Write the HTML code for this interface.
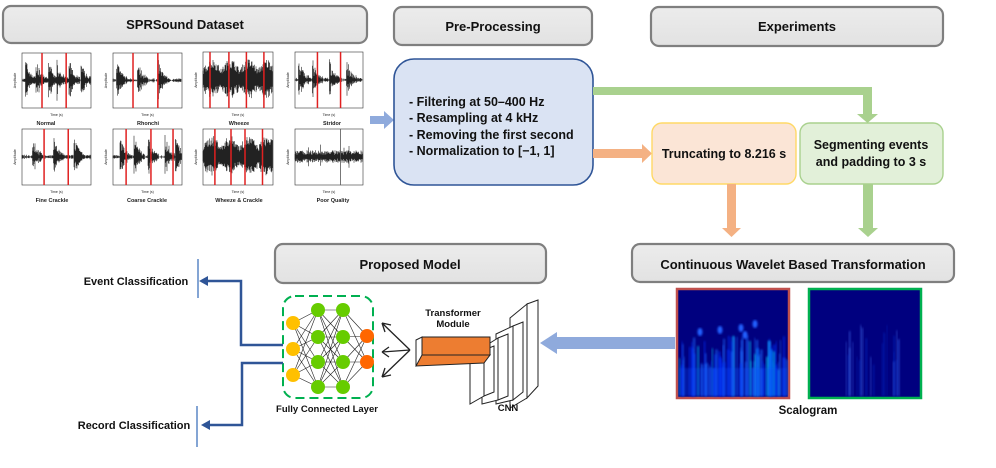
<!DOCTYPE html>
<html><head><meta charset="utf-8"><style>
body{margin:0;background:#fff}
svg{display:block;font-family:"Liberation Sans",Arial,sans-serif}
</style></head><body>
<svg id="s" width="996" height="468" viewBox="0 0 996 468" xmlns="http://www.w3.org/2000/svg">
<defs>
<linearGradient id="hg" x1="0" y1="0" x2="0" y2="1"><stop offset="0" stop-color="#ececec"/><stop offset="1" stop-color="#e2e2e2"/></linearGradient>
<filter id="bl" x="-50%" y="-10%" width="200%" height="120%"><feGaussianBlur stdDeviation="1"/></filter>
</defs>
<rect width="996" height="468" fill="#fff"/>
<g stroke="#7f7f7f" stroke-width="2.2" fill="url(#hg)">
<rect x="3" y="6" width="364" height="37" rx="8"/>
<rect x="394" y="7" width="198" height="38" rx="8"/>
<rect x="651" y="7" width="292" height="39" rx="8"/>
<rect x="275" y="244" width="271" height="39" rx="8"/>
<rect x="632" y="244" width="322" height="38" rx="8"/>
</g>
<g font-weight="bold" font-size="13" text-anchor="middle" fill="#111">
<text x="185" y="29">SPRSound Dataset</text>
<text x="493" y="31">Pre-Processing</text>
<text x="797" y="31">Experiments</text>
<text x="410" y="269">Proposed Model</text>
<text x="793" y="269">Continuous Wavelet Based Transformation</text>
</g>
<g id="wav"></g>
<g font-size="5.5" font-weight="bold" text-anchor="middle" fill="#222">
<text x="46" y="125">Normal</text><text x="148" y="125">Rhonchi</text><text x="239" y="125">Wheeze</text><text x="332" y="125">Stridor</text>
<text x="52" y="202">Fine Crackle</text><text x="147" y="202">Coarse Crackle</text><text x="239" y="202">Wheeze &amp; Crackle</text><text x="333" y="202">Poor Quality</text>
</g>
<polygon points="370,116 384,116 384,111 394,120 384,129 384,124 370,124" fill="#8faadc"/>
<rect x="394" y="59" width="199" height="126" rx="20" fill="#dae3f3" stroke="#2f5597" stroke-width="1.6"/>
<g font-weight="bold" font-size="12.5" fill="#111">
<text x="409" y="106">- Filtering at 50–400 Hz</text>
<text x="409" y="122">- Resampling at 4 kHz</text>
<text x="409" y="139">- Removing the first second</text>
<text x="409" y="155">- Normalization to [−1, 1]</text>
</g>
<polygon points="593,87 872,87 872,114 878,114 867.5,123 857,114 863,114 863,95 593,95" fill="#a9d18e"/>
<polygon points="593,149 642,149 642,144 652,153.5 642,163 642,158 593,158" fill="#f4b183"/>
<rect x="652" y="123" width="144" height="61" rx="10" fill="#fbe5d6" stroke="#ffd966" stroke-width="1.4"/>
<rect x="800" y="123" width="143" height="61" rx="10" fill="#e2f0d9" stroke="#a9d18e" stroke-width="1.4"/>
<g font-weight="bold" font-size="12.5" fill="#111" text-anchor="middle">
<text x="724" y="158">Truncating to 8.216 s</text>
<text x="871" y="149">Segmenting events</text>
<text x="871" y="166">and padding to 3 s</text>
</g>
<polygon points="727,184 736,184 736,228 741,228 731.5,237 722,228 727,228" fill="#f4b183"/>
<polygon points="863,184 873,184 873,228 878,228 868,237 858,228 863,228" fill="#a9d18e"/>
<rect x="677" y="289" width="112" height="109" fill="#00007f" stroke="#c0504d" stroke-width="2.5"/>
<rect x="809" y="289" width="112" height="109" fill="#00007f" stroke="#00b050" stroke-width="2.5"/>
<g id="sc1"></g><g id="sc2"></g>
<text x="808" y="414" font-weight="bold" font-size="11.5" text-anchor="middle" fill="#111">Scalogram</text>
<polygon points="675,337 557,337 557,332 540,343 557,354 557,349 675,349" fill="#8faadc"/>
<g stroke="#222" stroke-width="1" fill="#fff">
<polygon points="527,304 538,300 538,386 527,398"/>
<polygon points="510,318 527,304 527,398 510,408"/>
<polygon points="513,326 523,322 523,392 513,400"/>
<polygon points="496,334 513,326 513,400 496,404"/>
<polygon points="498,338 508,334 508,396 498,400"/>
<polygon points="482,348 498,338 498,400 482,404"/>
<polygon points="484,350 494,346 494,392 484,396"/>
<polygon points="470,358 484,350 484,396 470,404"/>
</g>
<polygon points="416,340 422,337 422,363 416,366" fill="#fff" stroke="#222"/>
<rect x="422" y="337" width="68" height="18" fill="#ed7d31" stroke="#222"/>
<polygon points="416,366 422,355 490,355 484,363" fill="#ed7d31" stroke="#222"/>
<g font-weight="bold" font-size="9.5" text-anchor="middle" fill="#111">
<text x="453" y="316">Transformer</text><text x="453" y="327">Module</text>
<text x="508" y="411">CNN</text>
<text x="327" y="412">Fully Connected Layer</text>
<text x="136" y="285" font-size="11">Event Classification</text>
<text x="134" y="429" font-size="11">Record Classification</text>
</g>
<g stroke="#222" stroke-width="1.3" fill="none">
<path d="M410,350 L382,323 M382,323 l3,9 M382,323 l9,2"/>
<path d="M410,350 L382,352 M382,352 l7,-5 M382,352 l7,5"/>
<path d="M410,350 L382,377 M382,377 l9,-2 M382,377 l3,-9"/>
</g>
<rect x="283" y="296" width="90" height="102" rx="12" fill="none" stroke="#00b050" stroke-width="2" stroke-dasharray="9,5"/>
<g id="fc"></g>
<g stroke="#2f5597" stroke-width="2.5" fill="none">
<path d="M283,345 L241,345 L241,281 L205,281"/>
<path d="M283,363 L242,363 L242,425 L207,425"/>
</g>
<polygon points="199,281 208,276 208,286" fill="#2f5597"/>
<polygon points="201,425 210,420 210,430" fill="#2f5597"/>
<line x1="198" y1="259" x2="198" y2="298" stroke="#5b87c5" stroke-width="1.5"/>
<line x1="197" y1="406" x2="197" y2="447" stroke="#5b87c5" stroke-width="1.5"/>
</svg>
<script>
var NS="http://www.w3.org/2000/svg";
function el(p,t,a){var e=document.createElementNS(NS,t);for(var k in a)e.setAttribute(k,a[k]);p.appendChild(e);return e;}
var seed=7;function rnd(){seed=(seed*16807)%2147483647;return seed/2147483647;}
var W=document.getElementById("wav");
var plots=[
[22,53,69,55,[.29,.64],"b",[.05,.2,.38,.5,.68,.85]],
[113,53,69,55,[.29,.65],"b",[.05,.35,.65]],
[203,52,70,56,[.1,.37,.62,.87],"d",[]],
[295,52,68,56,[.33,.67],"b",[.05,.25,.5,.75]],
[22,129,69,56,[.32,.67],"b",[.15,.45,.75]],
[113,129,69,56,[.19,.55,.87],"b",[.1,.3,.5,.75,.9]],
[203,129,70,56,[.17,.4,.6,.85],"d",[]],
[295,129,68,56,[.67],"n",[]]];
plots.forEach(function(p,i){
 var x=p[0],y=p[1],w=p[2],h=p[3];
 el(W,"rect",{x:x,y:y,width:w,height:h,fill:"#fff",stroke:"#333","stroke-width":.6});
 var mid=y+h/2,d="";
 for(var k=0;k<w*2;k++){
  var f=k/(w*2),a;
  if(p[5]=="d"){a=h*0.38*(0.5+0.5*Math.abs(Math.sin(f*12)))*(0.5+0.5*rnd());}
  else if(p[5]=="n"){a=h*0.08*(0.5+rnd())+(rnd()<.05?h*.12:0);}
  else{a=h*0.04*rnd();p[6].forEach(function(c){var dd=f-c;if(dd>0&&dd<0.16)a+=h*0.42*Math.exp(-dd*15)*(0.2+0.8*rnd());});}
  var xx=x+k/2;d+="M"+xx.toFixed(1)+","+(mid-a).toFixed(1)+"V"+(mid+a*(0.6+0.4*rnd())).toFixed(1);
 }
 el(W,"path",{d:d,stroke:"#222","stroke-width":.6,fill:"none"});
 p[4].forEach(function(r){el(W,"line",{x1:x+r*w,y1:y,x2:x+r*w,y2:y+h,stroke:i==7?"#555":"#e02020","stroke-width":i==7?.8:1.5});});
 el(W,"text",{x:x-6,y:mid,"font-size":3.5,"text-anchor":"middle",transform:"rotate(-90 "+(x-6)+" "+mid+")",fill:"#222"}).textContent="Amplitude";
 el(W,"text",{x:x+w/2,y:y+h+8,"font-size":3.5,"text-anchor":"middle",fill:"#222"}).textContent="Time (s)";
});
function scal(g,x0,full){
 var G=document.getElementById(g);
 var n=full?90:22;
 for(var i=0;i<n;i++){
  var x=full?x0+2+rnd()*108:x0+35+rnd()*55;
  var top=full?335+rnd()*35:325+rnd()*40;
  var c=full?(rnd()<.12?"#00e0ff":(rnd()<.5?"#1e6bff":"#0030ff")):(rnd()<.3?"#5080ff":"#1030d0");
  el(G,"rect",{x:x,y:top,width:full?1+rnd()*1.6:0.8+rnd()*0.8,height:396-top,fill:c,opacity:full?.6:.5,filter:"url(#bl)"});
 }
 if(full){[[700,332],[720,330],[741,328],[755,324],[745,335]].forEach(function(q){el(G,"ellipse",{cx:q[0],cy:q[1],rx:2.5,ry:4,fill:"#2060ff",filter:"url(#bl)"});});
  el(G,"rect",{x:679,y:368,width:108,height:28,fill:"#1050ff",opacity:.3,filter:"url(#bl)"});}
}
scal("sc1",677,true);scal("sc2",809,false);
var F=document.getElementById("fc");
var L=[[[293,323],[293,349],[293,375]],[[318,310],[318,337],[318,362],[318,387]],[[343,310],[343,337],[343,362],[343,387]],[[367,336],[367,362]]];
var col=["#ffc000","#66cc00","#66cc00","#ff6600"];
for(var l=0;l<3;l++)L[l].forEach(function(a){L[l+1].forEach(function(b){el(F,"line",{x1:a[0],y1:a[1],x2:b[0],y2:b[1],stroke:"#222","stroke-width":.6});});});
L.forEach(function(ly,i){ly.forEach(function(a){el(F,"circle",{cx:a[0],cy:a[1],r:7,fill:col[i]});});});
</script>
</body></html>
